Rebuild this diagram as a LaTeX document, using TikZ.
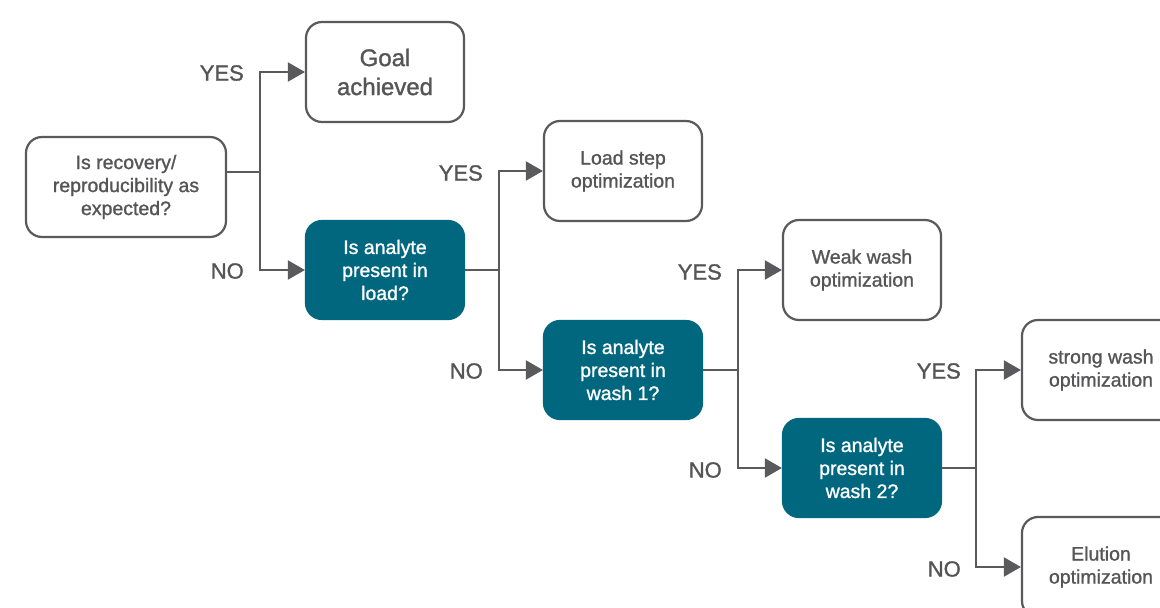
\documentclass[tikz,border=0pt]{standalone}
\usepackage{fontspec}
\setmainfont{Liberation Sans}
\newfontfamily\medfont[FakeBold=1.2]{Liberation Sans}
\usetikzlibrary{arrows.meta}
\definecolor{txtgray}{RGB}{85,85,87}
\definecolor{linegray}{RGB}{90,90,92}
\definecolor{teal}{RGB}{0,103,127}
\tikzset{
  whitebox/.style={draw=linegray, line width=2.2pt, rounded corners=16pt, fill=white,
    text=txtgray, align=center, minimum height=100pt, inner sep=2pt,
    font=\medfont\fontsize{19.5}{23}\selectfont},
  tealbox/.style={draw=teal, line width=2.2pt, rounded corners=16pt, fill=teal,
    text=white, align=center, minimum width=158pt, minimum height=98pt, inner sep=2pt,
    font=\medfont\fontsize{19.5}{23}\selectfont},
  lbl/.style={text=txtgray, anchor=east, inner sep=0pt, font=\medfont\fontsize{22}{24}\selectfont},
  conn/.style={draw=linegray, line width=2pt},
  arr/.style={conn, -{Triangle[length=17pt,width=19pt]}}
}
\begin{document}
\begin{tikzpicture}[x=1pt,y=-1pt]
\clip (0,0) rectangle (1160,608);
\fill[white] (0,0) rectangle (1160,608);
% nodes
\node[whitebox, minimum width=200pt] (start) at (126,187) {Is recovery/\\reproducibility as\\expected?};
\node[whitebox, minimum width=158pt, font=\medfont\fontsize{24}{29}\selectfont] (goal) at (385,72) {Goal\\achieved};
\node[tealbox] (q1) at (385,270) {Is analyte\\present in\\load?};
\node[whitebox, minimum width=158pt] (load) at (623,171) {Load step\\optimization};
\node[tealbox] (q2) at (623,370) {Is analyte\\present in\\wash 1?};
\node[whitebox, minimum width=158pt] (weak) at (862,270) {Weak wash\\optimization};
\node[tealbox] (q3) at (862,468) {Is analyte\\present in\\wash 2?};
\node[whitebox, minimum width=158pt] (strong) at (1101,370) {strong wash\\optimization};
\node[whitebox, minimum width=158pt] (elut) at (1101,567) {Elution\\optimization};
% junctions
\coordinate (j1) at (260,172);
\coordinate (j2) at (499,270);
\coordinate (j3) at (738,370);
\coordinate (j4) at (976,468);
% connectors
\draw[conn] (start.east |- j1) -- (j1);
\draw[arr] (j1) |- (goal.west);
\draw[arr] (j1) |- (q1.west);
\draw[conn] (q1.east) -- (j2);
\draw[arr] (j2) |- (load.west);
\draw[arr] (j2) |- (q2.west);
\draw[conn] (q2.east) -- (j3);
\draw[arr] (j3) |- (weak.west);
\draw[arr] (j3) |- (q3.west);
\draw[conn] (q3.east) -- (j4);
\draw[arr] (j4) |- (strong.west);
\draw[arr] (j4) |- (elut.west);
% labels
\node[lbl] (y1) at (244,73) {YES};
\node[lbl] (n1) at (244,271) {NO};
\node[lbl] (y2) at (483,173) {YES};
\node[lbl] (n2) at (483,371) {NO};
\node[lbl] (y3) at (722,272) {YES};
\node[lbl] (n3) at (722,470) {NO};
\node[lbl] (y4) at (961,371) {YES};
\node[lbl] (n4) at (961,569) {NO};
\end{tikzpicture}
\end{document}
